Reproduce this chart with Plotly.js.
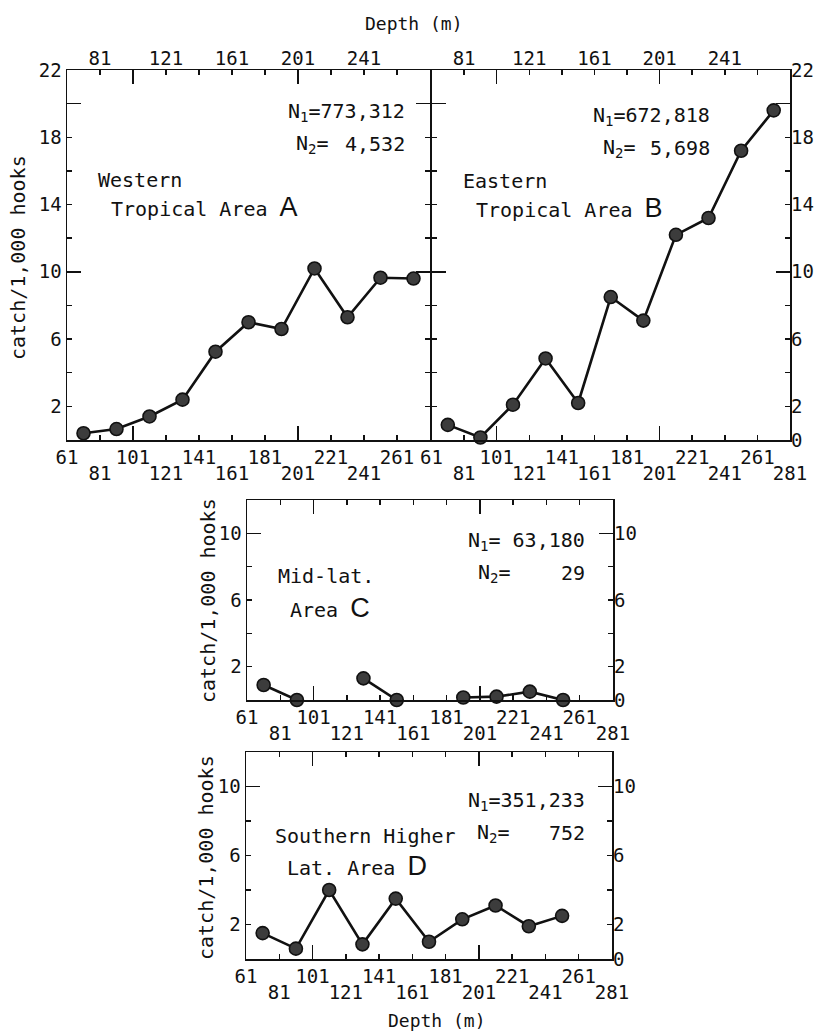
<!DOCTYPE html>
<html><head><meta charset="utf-8">
<script src="https://cdn.plot.ly/plotly-3.0.1.min.js"></script>
<style>html,body{margin:0;padding:0;background:#fff}</style>
</head><body><div id="chart" style="width:821px;height:1034px"></div>
<script>
// ---- data ----
const depthMid = [71, 91, 111, 131, 151, 171, 191, 211, 231, 251, 271];
const catchA = [0.4, 0.65, 1.4, 2.4, 5.25, 7.0, 6.6, 10.2, 7.3, 9.65, 9.6];
const catchB = [0.9, 0.15, 2.1, 4.85, 2.2, 8.5, 7.1, 12.2, 13.2, 17.2, 19.6];
const catchC = [0.9, 0.0, null, 1.3, 0.0, null, 0.15, 0.2, 0.5, 0.0, null];
const catchD = [1.5, 0.6, 4.0, 0.85, 3.5, 1.0, 2.3, 3.1, 1.9, 2.5, null];

const depthTicks = [61, 81, 101, 121, 141, 161, 181, 201, 221, 241, 261, 281];
const upperDepthLabels = [61, 101, 141, 181, 221, 261];
const lowerDepthLabelsA = [81, 121, 161, 201, 241];
const lowerDepthLabels = [81, 121, 161, 201, 241, 281];
const topDepthLabels = [81, 121, 161, 201, 241];
const longDepthTicks = [101, 201];

const catchTicks22 = [0, 2, 4, 6, 8, 10, 12, 14, 16, 18, 20, 22];
const catchTicks12 = [0, 2, 4, 6, 8, 10, 12];
const leftLabelsAB = [2, 6, 10, 14, 18, 22];
const rightLabelsB = [0, 2, 6, 10, 14, 18, 22];
const leftLabelsCD = [2, 6, 10];
const rightLabelsCD = [0, 2, 6, 10];

const nA = ['773,312', '4,532'];
const nB = ['672,818', '5,698'];
const nC = ['63,180', '29'];
const nD = ['351,233', '752'];

// ---- layout helpers ----
const W = 821, H = 1034;
const FONT = '"DejaVu Sans Mono", "Liberation Mono", monospace';
const INK = '#111';
const px = v => v / W;
const py = v => 1 - v / H;

const panels = [
  {x: [67, 430], y: [70, 440], yr: 22, vals: catchA, ct: catchTicks22, left: leftLabelsAB, right: [], lower: lowerDepthLabelsA, top: true, long: [10, 20]},
  {x: [431.5, 790], y: [70, 440], yr: 22, vals: catchB, ct: catchTicks22, left: [], right: rightLabelsB, lower: lowerDepthLabels, top: true, long: [10, 20]},
  {x: [247, 613], y: [500, 700], yr: 12, vals: catchC, ct: catchTicks12, left: leftLabelsCD, right: rightLabelsCD, lower: lowerDepthLabels, top: false, long: [10]},
  {x: [246, 612], y: [752, 959], yr: 12, vals: catchD, ct: catchTicks12, left: leftLabelsCD, right: rightLabelsCD, lower: lowerDepthLabels, top: false, long: [10]}
];

const layout = {
  width: W, height: H, margin: {l: 0, r: 0, t: 0, b: 0},
  paper_bgcolor: '#fff', plot_bgcolor: 'rgba(0,0,0,0)',
  showlegend: false, font: {family: FONT, size: 19, color: INK},
  annotations: []
};
const traces = [];
const dummies = [];
let xi = 0, yi = 0;
const key = (p, n) => p + 'axis' + (n === 1 ? '' : n);
const ref = (p, n) => p + (n === 1 ? '' : n);

const tickFont = {family: FONT, size: 19, color: INK};
const base = {showgrid: false, zeroline: false, fixedrange: true, tickcolor: INK, tickwidth: 1.5, tickfont: tickFont};

function dummy(xa, ya) {
  dummies.push({type: 'scatter', mode: 'markers', x: [61], y: [0], xaxis: xa, yaxis: ya,
    marker: {opacity: 0, size: 1}, hoverinfo: 'skip', showlegend: false});
}

panels.forEach(p => {
  const xb = ++xi, yb = ++yi;
  const xr = [61, 281], yrng = [0, p.yr];
  const X = ref('x', xb), Y = ref('y', yb);
  layout[key('x', xb)] = Object.assign({}, base, {
    domain: [px(p.x[0]), px(p.x[1])], range: xr, anchor: Y, side: 'bottom',
    showline: true, linecolor: INK, linewidth: 1.5, mirror: 'ticks',
    ticks: 'inside', ticklen: 5, tickmode: 'array', tickvals: depthTicks,
    ticktext: depthTicks.map(v => upperDepthLabels.includes(v) ? String(v) : '')
  });
  const xl = ++xi;
  layout[key('x', xl)] = Object.assign({}, base, {
    overlaying: X, anchor: Y, side: 'bottom', range: xr,
    showline: false, ticks: '', tickmode: 'array', tickvals: p.lower,
    ticktext: p.lower.map(String), ticklabelstandoff: 20
  });
  dummy(ref('x', xl), Y);
  const xg = ++xi;
  layout[key('x', xg)] = Object.assign({}, base, {
    overlaying: X, anchor: Y, side: 'bottom', range: xr,
    showline: false, mirror: 'ticks', ticks: 'inside', ticklen: 14, tickmode: 'array',
    tickvals: longDepthTicks, showticklabels: false
  });
  dummy(ref('x', xg), Y);
  if (p.top) {
    const xt = ++xi;
    layout[key('x', xt)] = Object.assign({}, base, {
      overlaying: X, anchor: Y, side: 'top', range: xr,
      showline: false, ticks: '', tickmode: 'array', tickvals: topDepthLabels,
      ticktext: topDepthLabels.map(String)
    });
    dummy(ref('x', xt), Y);
  }
  layout[key('y', yb)] = Object.assign({}, base, {
    domain: [py(p.y[1]), py(p.y[0])], range: yrng, anchor: X, side: 'left',
    showline: true, linecolor: INK, linewidth: 1.5, mirror: 'ticks',
    ticks: 'inside', ticklen: 5, tickmode: 'array', tickvals: p.ct,
    ticktext: p.ct.map(v => p.left.includes(v) ? String(v) : '')
  });
  if (p.right.length) {
    const yr = ++yi;
    layout[key('y', yr)] = Object.assign({}, base, {
      overlaying: Y, anchor: X, side: 'right', range: yrng,
      showline: false, ticks: '', tickmode: 'array', tickvals: p.right,
      ticktext: p.right.map(String)
    });
    dummy(X, ref('y', yr));
  }
  const yg = ++yi;
  layout[key('y', yg)] = Object.assign({}, base, {
    overlaying: Y, anchor: X, side: 'left', range: yrng,
    showline: false, mirror: 'ticks', ticks: 'inside', ticklen: 14, tickmode: 'array',
    tickvals: p.long, showticklabels: false
  });
  dummy(X, ref('y', yg));

  traces.push({
    type: 'scatter', mode: 'lines+markers', x: depthMid, y: p.vals,
    xaxis: X, yaxis: Y, connectgaps: false, cliponaxis: false,
    line: {color: INK, width: 2.6},
    marker: {size: 13, color: '#3c3c3c', line: {color: INK, width: 1.6}},
    hoverinfo: 'skip'
  });
});

function ann(text, xp, yp, xanchor, extra) {
  layout.annotations.push(Object.assign({
    text: text, xref: 'paper', yref: 'paper', x: px(xp), y: py(yp),
    xanchor: xanchor, yanchor: 'middle', showarrow: false, borderpad: 0,
    font: {family: FONT, size: 20, color: INK}
  }, extra || {}));
}
const big = L => '<span style="font-family:\'Liberation Sans\',sans-serif;font-size:27px">' + L + '</span>';

// Titles
ann('Depth (m)', 414, 24, 'center', {font: {family: FONT, size: 18, color: INK}});
ann('Depth (m)', 437, 1020, 'center', {font: {family: FONT, size: 18, color: INK}});
ann('catch/1,000 hooks', 18, 258, 'center', {textangle: -90});
ann('catch/1,000 hooks', 208, 600, 'center', {textangle: -90});
ann('catch/1,000 hooks', 206, 858, 'center', {textangle: -90});

// Panel A
ann('N<sub>1</sub>=' + nA[0], 406, 112, 'right');
ann('N<sub>2</sub>=', 295, 144, 'left');
ann(nA[1], 406, 144, 'right');
ann('Western', 97, 180, 'left');
ann('Tropical Area ' + big('A'), 110, 207, 'left');
// Panel B
ann('N<sub>1</sub>=' + nB[0], 711, 116, 'right');
ann('N<sub>2</sub>=', 602, 148, 'left');
ann(nB[1], 711, 148, 'right');
ann('Eastern', 462, 181, 'left');
ann('Tropical Area ' + big('B'), 475, 208, 'left');
// Panel C
ann('N<sub>1</sub>= ' + nC[0], 586, 541, 'right');
ann('N<sub>2</sub>=', 477, 573, 'left');
ann(nC[1], 586, 573, 'right');
ann('Mid-lat.', 277, 576, 'left');
ann('Area ' + big('C'), 289, 608, 'left');
// Panel D
ann('N<sub>1</sub>=' + nD[0], 586, 801, 'right');
ann('N<sub>2</sub>=', 476, 833, 'left');
ann(nD[1], 586, 833, 'right');
ann('Southern Higher', 274, 836, 'left');
ann('Lat. Area ' + big('D'), 286, 866, 'left');

Plotly.newPlot('chart', dummies.concat(traces), layout, {staticPlot: true, displayModeBar: false});
</script>
</body></html>
